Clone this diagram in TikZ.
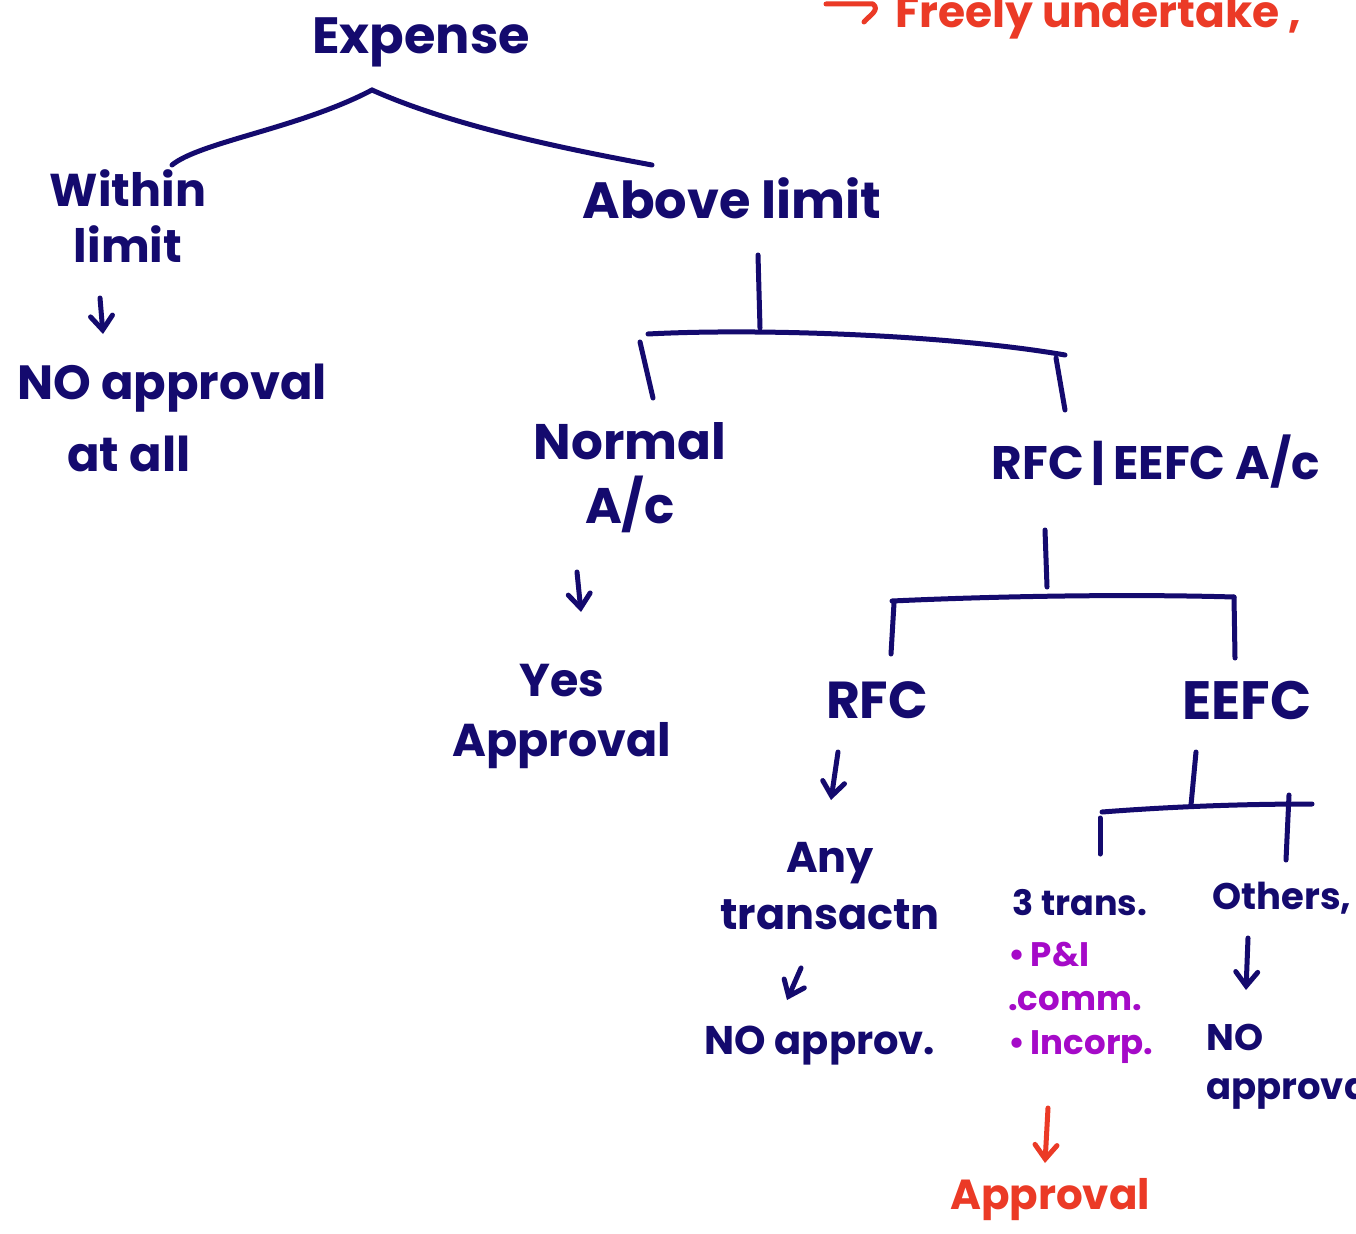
\documentclass[tikz,border=0pt]{standalone}
\usepackage{fontspec}
\setmainfont{Poppins}
\usetikzlibrary{arrows.meta}
\definecolor{ink}{RGB}{20,10,110}
\definecolor{lilac}{RGB}{165,10,200}
\definecolor{flame}{RGB}{235,58,38}
\newcommand{\fs}[1]{\fontsize{#1}{#1}\selectfont\bfseries}
\begin{document}
\begin{tikzpicture}[x=1pt,y=-1pt,
  pen/.style={draw=ink,line width=5pt,line cap=round,line join=round},
  redpen/.style={pen,draw=flame},
  down/.style={-{Straight Barb[length=14pt,width=22pt,line cap=round]}},
  lbl/.style={text=ink,inner sep=0pt,align=center},
  note/.style={text=lilac,inner sep=0pt,align=left},
  hot/.style={text=flame,inner sep=0pt}]
\useasboundingbox (0,0) rectangle (1356,1233);
\clip (0,0) rectangle (1356,1233);
\fill[white] (0,0) rectangle (1356,1233);

% labels
\node[lbl,font=\fs{51}] (expense) at (421,42) {Expense};
\node[lbl,font=\fs{46}] (within) at (128,216) {Within\\[10pt]limit};
\node[lbl,align=left,font=\fs{48}] (noall) at (172,418) {NO approval\\[22pt]\hspace*{50pt}at all};
\node[lbl,font=\fs{51}] (above) at (732,198) {Above limit};
\node[lbl,font=\fs{50}] (normal) at (630,478) {Normal\\[14pt]A/c};
\node[lbl,font=\fs{46}] (yes) at (562,716) {Yes\\[14pt]Approval};
\node[lbl,font=\fs{47}] (rfceefc) at (1156,462) {RFC\,|\,EEFC A/c};
\node[lbl,font=\fs{52}] (rfc) at (877,700) {RFC};
\node[lbl,font=\fs{54}] (eefc) at (1247,700) {EEFC};
\node[lbl,font=\fs{43}] (anytr) at (830,886) {Any\\[14pt]transactn};
\node[lbl,font=\fs{40}] (noappr) at (820,1046) {NO approv.};
\node[lbl,font=\fs{35}] (three) at (1080,903) {3 trans.};
\node[note,anchor=north west,font=\fs{34}] (list) at (1008,942) {•\,P\&I\\[10pt].comm.\\[10pt]•\,Incorp.};
\node[lbl,font=\fs{37}] (others) at (1282,898) {Others,};
\node[lbl,align=left,anchor=north west,font=\fs{37}] (noapr2) at (1206,1024) {NO\\[12pt]approval};
\node[hot,font=\fs{42}] (approval) at (1050,1200) {Approval};
\node[hot,anchor=base west,font=\fs{44}] (freely) at (895,28) {Freely undertake ,};

% Expense splits in two
\coordinate (top) at (372,90);
\coordinate (wl) at (172,165);
\coordinate (al) at (652,165);
\draw[pen] (top) .. controls (300,128) and (200,142) .. (wl);
\draw[pen] (top) .. controls (450,125) and (560,148) .. (al);

% Above limit branches
\coordinate (a0) at (758,255);
\coordinate (a1) at (760,328);
\coordinate (aL) at (648,334);
\coordinate (aR) at (1065,355);
\draw[pen] (a0) -- (a1);
\draw[pen] (aL) .. controls (760,328) and (950,335) .. (aR);
\draw[pen] (640,342) -- (653,398);
\draw[pen] (1056,358) -- (1065,410);

% RFC / EEFC branches
\draw[pen] (1045,530) -- (1047,587);
\coordinate (rL) at (892,601);
\coordinate (rR) at (1234,597);
\draw[pen] (rL) .. controls (1000,596) and (1130,594) .. (rR);
\draw[pen] (894,603) -- (891,654);
\draw[pen] (rR) -- (1235,658);

% EEFC branches
\draw[pen] (1196,752) -- (1191,805);
\coordinate (eL) at (1102,812);
\coordinate (eR) at (1312,804);
\draw[pen] (eL) .. controls (1180,806) and (1250,804) .. (eR);
\draw[pen] (1100,818) -- (1100,854);
\draw[pen] (1289,795) -- (1286,860);

% downward arrows
\coordinate (w0) at (100,298);  \coordinate (w1) at (103,334);
\coordinate (n0) at (577,572);  \coordinate (n1) at (581,612);
\coordinate (r0) at (838,752);  \coordinate (r1) at (831,800);
\coordinate (t0) at (801,968);  \coordinate (t1) at (787,1000);
\coordinate (o0) at (1248,938); \coordinate (o1) at (1246,990);
\coordinate (p0) at (1048,1108);\coordinate (p1) at (1045,1163);
\draw[pen,down] (w0) -- (w1);
\draw[pen,down] (n0) -- (n1);
\draw[pen,down] (r0) -- (r1);
\draw[pen,down] (t0) -- (t1);
\draw[pen,down] (o0) -- (o1);
\draw[redpen,down] (p0) -- (p1);

% arrow before the red note
\coordinate (f0) at (826,4);
\coordinate (f1) at (873,4);
\coordinate (f2) at (864,22);
\draw[redpen] (f0) -- (f1) .. controls (880,10) and (870,15) .. (f2);
\end{tikzpicture}
\end{document}
